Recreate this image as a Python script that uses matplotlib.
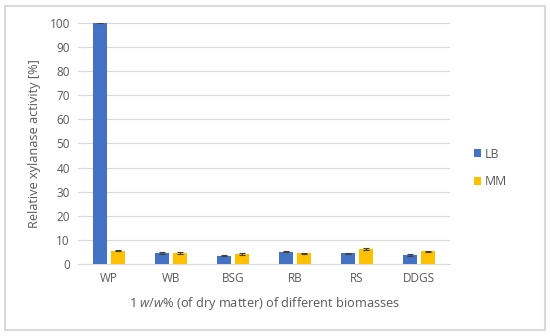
"""Relative xylanase activity on 1 w/w% of different biomasses (LB vs MM)."""

import matplotlib

matplotlib.use("Agg")
import matplotlib.pyplot as plt  # noqa: E402
import numpy as np  # noqa: E402
from matplotlib.patches import Rectangle  # noqa: E402

CATEGORIES = ["WP", "WB", "BSG", "RB", "RS", "DDGS"]
LB_VALUES = [100.0, 4.6, 3.5, 5.2, 4.5, 3.8]
LB_ERRORS = [0.2, 0.3, 0.2, 0.2, 0.3, 0.3]
MM_VALUES = [5.6, 4.6, 4.1, 4.4, 6.2, 5.3]
MM_ERRORS = [0.3, 0.3, 0.3, 0.2, 0.4, 0.2]
Y_TICKS = [0, 10, 20, 30, 40, 50, 60, 70, 80, 90, 100]

TEXT_COLOR = "#595959"
COLORS = {"LB": "#4472C4", "MM": "#FFC000"}

plt.rcParams.update(
    {
        "font.family": ["Open Sans", "DejaVu Sans"],
        "font.size": 8,
        "mathtext.fontset": "custom",
        "mathtext.rm": "Open Sans",
        "mathtext.it": "Open Sans:italic",
        "text.color": TEXT_COLOR,
        "axes.labelcolor": TEXT_COLOR,
        "xtick.color": TEXT_COLOR,
        "ytick.color": TEXT_COLOR,
    }
)

figure = plt.figure(figsize=(5.5, 3.36), dpi=100)
axis = figure.add_axes([0.142, 0.214, 0.676, 0.718])

x = np.arange(len(CATEGORIES))
width = 0.23
offset = 0.145
error_style = {"ecolor": "#404040", "capsize": 2.5, "elinewidth": 0.8, "capthick": 0.8}
axis.bar(x - offset, LB_VALUES, width, yerr=LB_ERRORS, color=COLORS["LB"],
         label="LB", error_kw=error_style, zorder=3)
axis.bar(x + offset, MM_VALUES, width, yerr=MM_ERRORS, color=COLORS["MM"],
         label="MM", error_kw=error_style, zorder=3)

axis.set_ylim(0, 100)
axis.set_xlim(-0.5, len(CATEGORIES) - 0.5)
axis.set_yticks(Y_TICKS)
axis.set_xticks(x, CATEGORIES)
axis.tick_params(length=0, pad=6, labelsize=8.5)
axis.grid(axis="y", color="#d9d9d9", linewidth=0.8, zorder=0)
for side in ["top", "right", "left"]:
    axis.spines[side].set_visible(False)
axis.spines["bottom"].set_color("#d9d9d9")
axis.spines["bottom"].set_linewidth(0.8)

axis.set_ylabel("Relative xylanase activity [%]", fontsize=9.2, labelpad=6)
axis.set_xlabel(r"1 $\mathit{w/w}$% (of dry matter) of different biomasses",
                fontsize=9.2, labelpad=7)

figure.legend(
    loc="center left",
    bbox_to_anchor=(0.842, 0.5),
    frameon=False,
    handlelength=0.6,
    handleheight=0.6,
    handletextpad=0.3,
    labelspacing=1.2,
    fontsize=8.8,
)

figure.patches.append(
    Rectangle((5 / 550, 6 / 336), 540 / 550, 324 / 336, transform=figure.transFigure,
              fill=False, edgecolor="#d9d9d9", linewidth=1.5)
)

figure.savefig("out.png", dpi=100, facecolor="white")
plt.close(figure)
